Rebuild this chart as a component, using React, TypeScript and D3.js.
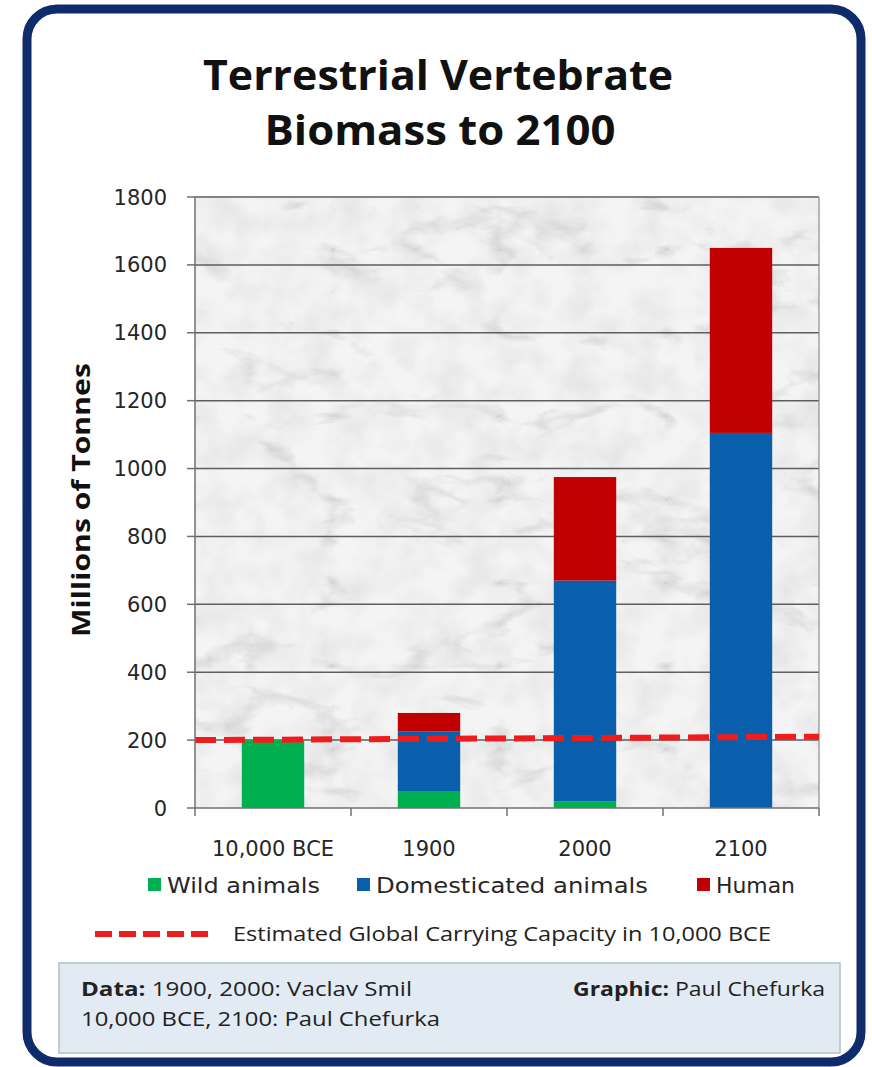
import React from "react";
import * as d3 from "d3";

const categories = ["10,000 BCE", "1900", "2000", "2100"];
const wildAnimals = [200, 50, 20, 0];
const domesticated = [0, 175, 650, 1105];
const human = [0, 55, 305, 545];
const yTicks = [0, 200, 400, 600, 800, 1000, 1200, 1400, 1600, 1800];
const capacityValues = [200, 210]; // at left and right edges of plot
const seriesNames = ["Wild animals", "Domesticated animals", "Human"];
const seriesColors = ["#00b050", "#0a5fad", "#c00000"];

const W = 872;
const H = 1067;
const PL = 195, PR = 819, PT = 197, PB = 808;

export default function App() {
  const x = d3.scaleBand<string>().domain(categories).range([PL, PR]).paddingInner(0.6).paddingOuter(0.3);
  const slot = d3.scaleBand<string>().domain(categories).range([PL, PR]).padding(0);
  const y = d3.scaleLinear().domain([0, 1800]).range([PB, PT]);

  const rows = categories.map((c, i) => ({
    cat: c,
    "Wild animals": wildAnimals[i],
    "Domesticated animals": domesticated[i],
    Human: human[i],
  }));
  const stack = d3.stack<any>().keys(seriesNames);
  const stacked = stack(rows);

  const xc = d3.scaleLinear().domain([0, capacityValues.length - 1]).range([PL, PR]);
  const capLine = d3.line<number>().x((_, i) => xc(i)).y((v) => y(v))(capacityValues) || "";

  const boundaries = [PL, ...categories.map((c) => (slot(c) as number) + slot.bandwidth())];

  const axisFont = "'DejaVu Sans', Verdana, sans-serif";
  const cFont = "'Open Sans', 'Liberation Sans', sans-serif";

  return (
    <svg width={W} height={H} style={{ position: "absolute", left: 0, top: 0 }} xmlns="http://www.w3.org/2000/svg">
      <defs>
        <filter id="marble" x="0" y="0" width="1" height="1" filterUnits="objectBoundingBox">
          <feTurbulence type="turbulence" baseFrequency="0.006 0.012" numOctaves="5" seed="7" result="t" />
          <feColorMatrix
            in="t"
            type="matrix"
            values="0 0 0 0 0.5  0 0 0 0 0.5  0 0 0 0 0.52  -3.0 0 0 0 0.55"
          />
        </filter>
        <filter id="marble2" x="0" y="0" width="1" height="1" filterUnits="objectBoundingBox">
          <feTurbulence type="fractalNoise" baseFrequency="0.03" numOctaves="3" seed="2" result="n" />
          <feColorMatrix in="n" type="matrix" values="0 0 0 0 0.6  0 0 0 0 0.6  0 0 0 0 0.6  0.7 0 0 0 -0.25" />
        </filter>
      </defs>

      {/* background + frame */}
      <rect x={0} y={0} width={W} height={H} fill="#ffffff" />
      <rect x={27} y={9} width={834} height={1053} rx={30} ry={30} fill="#ffffff" stroke="#0f2b6c" strokeWidth={9} />

      {/* title */}
      <text x={438} y={90} textAnchor="middle" fontFamily={cFont} fontWeight={700} fontSize={42} fill="#111" textLength={470} lengthAdjust="spacingAndGlyphs">
        Terrestrial Vertebrate
      </text>
      <text x={440} y={145} textAnchor="middle" fontFamily={cFont} fontWeight={700} fontSize={42} fill="#111" textLength={351} lengthAdjust="spacingAndGlyphs">
        Biomass to 2100
      </text>

      {/* plot area marble */}
      <rect x={PL} y={PT} width={PR - PL} height={PB - PT} fill="#f4f4f4" />
      <rect x={PL} y={PT} width={PR - PL} height={PB - PT} filter="url(#marble)" />
      <rect x={PL} y={PT} width={PR - PL} height={PB - PT} filter="url(#marble2)" />

      {/* gridlines */}
      {yTicks.filter((t) => t > 0).map((t) => (
        <line key={"g" + t} x1={PL} x2={PR} y1={y(t)} y2={y(t)} stroke="#5e5e5e" strokeWidth={1.5} />
      ))}
      <line x1={PR} x2={PR} y1={PT} y2={PB} stroke="#8a8a8a" strokeWidth={1.2} />

      {/* bars */}
      {stacked.map((s, si) => (
        <g key={s.key} fill={seriesColors[si]}>
          {s.map((d, i) => {
            const h = y(d[0]) - y(d[1]);
            if (h <= 0) return null;
            return <rect key={i} x={x(categories[i])} y={y(d[1])} width={x.bandwidth()} height={h} />;
          })}
        </g>
      ))}

      {/* capacity line */}
      <path d={capLine} stroke="#f01c1c" strokeWidth={6} strokeDasharray="21 8" fill="none" />

      {/* axes */}
      <line x1={PL} x2={PL} y1={PT} y2={PB} stroke="#707070" strokeWidth={1.5} />
      <line x1={PL} x2={PR} y1={PB} y2={PB} stroke="#707070" strokeWidth={1.5} />
      {yTicks.map((t) => (
        <g key={"yt" + t}>
          <line x1={PL - 8} x2={PL} y1={y(t)} y2={y(t)} stroke="#707070" strokeWidth={1.5} />
          <text x={167} y={y(t)} dy="0.36em" textAnchor="end" fontFamily={axisFont} fontSize={21} fill="#262626">
            {t}
          </text>
        </g>
      ))}
      {boundaries.map((b, i) => (
        <line key={"xt" + i} x1={b} x2={b} y1={PB} y2={PB + 8} stroke="#707070" strokeWidth={1.5} />
      ))}
      {categories.map((c) => (
        <text key={"xl" + c} x={(x(c) as number) + x.bandwidth() / 2} y={856} textAnchor="middle" fontFamily={axisFont} fontSize={21} fill="#262626">
          {c}
        </text>
      ))}

      {/* y axis title */}
      <text transform="translate(90,500) rotate(-90)" textAnchor="middle" fontFamily={cFont} fontWeight={700} fontSize={25} fill="#111" textLength={274} lengthAdjust="spacingAndGlyphs">
        Millions of Tonnes
      </text>

      {/* legend row 1 */}
      {[
        { sq: 148, tx: 167, w: 153 },
        { sq: 357, tx: 376, w: 272 },
        { sq: 697, tx: 716, w: 79 },
      ].map((p, i) => (
        <g key={"lg" + i}>
          <rect x={p.sq} y={878} width={13} height={13} fill={seriesColors[i]} />
          <text x={p.tx} y={893} fontFamily={axisFont} fontSize={21} fill="#262626" textLength={p.w} lengthAdjust="spacingAndGlyphs">
            {seriesNames[i]}
          </text>
        </g>
      ))}

      {/* legend row 2 */}
      <line x1={95} x2={212} y1={934} y2={934} stroke="#f01c1c" strokeWidth={6} strokeDasharray="17 7" />
      <text x={233} y={941} fontFamily={cFont} fontSize={20} fill="#222" textLength={538} lengthAdjust="spacingAndGlyphs">
        Estimated Global Carrying Capacity in 10,000 BCE
      </text>

      {/* footer */}
      <rect x={59} y={963} width={781} height={90} fill="#e2ebf4" stroke="#b4bfcc" strokeWidth={1.5} />
      <text x={81} y={996} fontFamily={cFont} fontSize={20} fill="#222" textLength={331} lengthAdjust="spacingAndGlyphs">
        <tspan fontWeight={700}>Data:</tspan> 1900, 2000: Vaclav Smil
      </text>
      <text x={81} y={1026} fontFamily={cFont} fontSize={20} fill="#222" textLength={359} lengthAdjust="spacingAndGlyphs">
        10,000 BCE, 2100: Paul Chefurka
      </text>
      <text x={825} y={996} textAnchor="end" fontFamily={cFont} fontSize={20} fill="#222" textLength={252} lengthAdjust="spacingAndGlyphs">
        <tspan fontWeight={700}>Graphic:</tspan> Paul Chefurka
      </text>
    </svg>
  );
}
